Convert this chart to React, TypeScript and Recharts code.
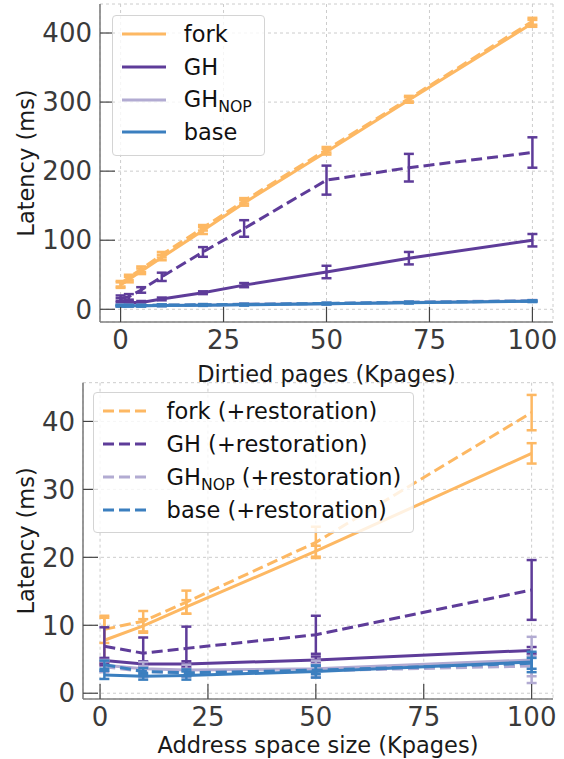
import {
  ComposedChart,
  Line,
  XAxis,
  YAxis,
  CartesianGrid,
  ErrorBar,
  Legend,
} from "recharts";

const FONT = "'DejaVu Sans', sans-serif";

const ORANGE = "#fdb863";
const PURPLE = "#5e3c99";
const LILAC = "#b2abd2";
const BLUE = "#3b7fbf";

// top panel: latency vs dirtied pages
const DIRTIED_X = [0, 2, 5, 10, 20, 30, 50, 70, 100];
const D_FORK = [35, 43, 55, 75, 114, 154, 228, 303, 414];
const D_FORK_ERR = [4, 4, 4, 4, 5, 4, 4, 4, 5];
const D_FORK_R = [37, 46, 58, 79, 118, 157, 231, 305, 417];
const D_FORK_R_ERR = [4, 4, 4, 4, 4, 4, 4, 4, 5];
const D_GH = [13, 10, 10, 15, 24, 35, 54, 74, 100];
const D_GH_ERR = [3, 2, 2, 2, 2, 3, 9, 9, 9];
const D_GH_R = [16, 18, 28, 47, 83, 117, 187, 205, 227];
const D_GH_R_ERR = [4, 4, 4, 6, 7, 12, 21, 20, 22];
const D_NOP = [5, 5, 5, 5.5, 6, 7, 8, 10, 12];
const D_NOP_ERR = [1, 1, 1, 1, 1, 1, 1, 1, 1];
const D_NOP_R = [5.5, 5.5, 5.5, 6, 6.5, 7.5, 8.5, 10.5, 12.5];
const D_NOP_R_ERR = [1, 1, 1, 1, 1, 1, 1, 1, 1];
const D_BASE = [5, 5, 5, 5.5, 6, 6.5, 8, 9.5, 11.5];
const D_BASE_ERR = [1, 1, 1, 1, 1, 1, 1, 1, 1];
const D_BASE_R = [5.5, 5.5, 5.5, 6, 6.5, 7, 8.5, 10, 12];
const D_BASE_R_ERR = [1, 1, 1, 1, 1, 1, 1, 1, 1];

// bottom panel: latency vs address space size
const ADDR_X = [1, 10, 20, 50, 100];
const A_FORK = [7.8, 9.9, 12.7, 20.9, 35.3];
const A_FORK_ERR = [3.3, 1.0, 1.0, 0.8, 1.5];
const A_FORK_R = [9.4, 10.6, 13.4, 22.2, 41.3];
const A_FORK_R_ERR = [2.0, 1.5, 1.7, 2.3, 2.6];
const A_GH = [4.8, 4.3, 4.3, 4.9, 6.3];
const A_GH_ERR = [0.4, 0.4, 0.4, 0.5, 0.5];
const A_GH_R = [6.9, 5.9, 6.6, 8.6, 15.2];
const A_GH_R_ERR = [2.8, 2.3, 3.2, 2.8, 4.4];
const A_NOP = [4.1, 3.6, 3.4, 3.6, 4.9];
const A_NOP_ERR = [0.8, 1.0, 0.8, 1.2, 3.4];
const A_NOP_R = [3.9, 3.2, 3.0, 3.3, 4.0];
const A_NOP_R_ERR = [0.8, 0.8, 0.6, 1.0, 1.5];
const A_BASE = [2.7, 2.5, 2.6, 3.2, 4.6];
const A_BASE_ERR = [0.6, 0.5, 0.6, 0.9, 1.5];
const A_BASE_R = [4.2, 3.2, 3.0, 3.4, 4.4];
const A_BASE_R_ERR = [0.6, 0.5, 0.5, 0.6, 0.8];

const X_TICKS = [0, 25, 50, 75, 100];
const D_Y_TICKS = [0, 100, 200, 300, 400];
const A_Y_TICKS = [0, 10, 20, 30, 40];

type Series = {
  key: string;
  color: string;
  dashed: boolean;
  values: number[];
  errors: number[];
};

const dirtiedSeries: Series[] = [
  { key: "fork", color: ORANGE, dashed: false, values: D_FORK, errors: D_FORK_ERR },
  { key: "forkR", color: ORANGE, dashed: true, values: D_FORK_R, errors: D_FORK_R_ERR },
  { key: "gh", color: PURPLE, dashed: false, values: D_GH, errors: D_GH_ERR },
  { key: "ghR", color: PURPLE, dashed: true, values: D_GH_R, errors: D_GH_R_ERR },
  { key: "nop", color: LILAC, dashed: false, values: D_NOP, errors: D_NOP_ERR },
  { key: "nopR", color: LILAC, dashed: true, values: D_NOP_R, errors: D_NOP_R_ERR },
  { key: "base", color: BLUE, dashed: false, values: D_BASE, errors: D_BASE_ERR },
  { key: "baseR", color: BLUE, dashed: true, values: D_BASE_R, errors: D_BASE_R_ERR },
];

const addrSeries: Series[] = [
  { key: "fork", color: ORANGE, dashed: false, values: A_FORK, errors: A_FORK_ERR },
  { key: "forkR", color: ORANGE, dashed: true, values: A_FORK_R, errors: A_FORK_R_ERR },
  { key: "gh", color: PURPLE, dashed: false, values: A_GH, errors: A_GH_ERR },
  { key: "ghR", color: PURPLE, dashed: true, values: A_GH_R, errors: A_GH_R_ERR },
  { key: "nop", color: LILAC, dashed: false, values: A_NOP, errors: A_NOP_ERR },
  { key: "nopR", color: LILAC, dashed: true, values: A_NOP_R, errors: A_NOP_R_ERR },
  { key: "base", color: BLUE, dashed: false, values: A_BASE, errors: A_BASE_ERR },
  { key: "baseR", color: BLUE, dashed: true, values: A_BASE_R, errors: A_BASE_R_ERR },
];

const buildRows = (xs: number[], series: Series[]) =>
  xs.map((x, i) => {
    const row: Record<string, number> = { x };
    series.forEach((s) => {
      row[s.key] = s.values[i];
      row[s.key + "Err"] = s.errors[i];
    });
    return row;
  });

type LegendItem = { name: string; sub?: string; suffix?: string; color: string; dashed: boolean };

const topLegend: LegendItem[] = [
  { name: "fork", color: ORANGE, dashed: false },
  { name: "GH", color: PURPLE, dashed: false },
  { name: "GH", sub: "NOP", color: LILAC, dashed: false },
  { name: "base", color: BLUE, dashed: false },
];

const bottomLegend: LegendItem[] = [
  { name: "fork", suffix: " (+restoration)", color: ORANGE, dashed: true },
  { name: "GH", suffix: " (+restoration)", color: PURPLE, dashed: true },
  { name: "GH", sub: "NOP", suffix: " (+restoration)", color: LILAC, dashed: true },
  { name: "base", suffix: " (+restoration)", color: BLUE, dashed: true },
];

const DASH = "11 5";

function LegendBox({ items, rowH, swatch }: { items: LegendItem[]; rowH: number; swatch: number }) {
  return (
    <div
      style={{
        border: "1px solid #d4d4d4",
        borderRadius: 4,
        background: "rgba(255,255,255,0.8)",
        padding: "2px 12px 6px 9px",
        fontFamily: FONT,
        fontSize: 22.5,
        color: "#111",
        lineHeight: 1,
      }}
    >
      {items.map((it, i) => (
        <div key={i} style={{ display: "flex", alignItems: "center", height: rowH }}>
          <svg width={swatch} height={8} style={{ flex: "none" }}>
            <line
              x1={0}
              y1={4}
              x2={swatch}
              y2={4}
              stroke={it.color}
              strokeWidth={3.2}
              strokeDasharray={it.dashed ? DASH : undefined}
            />
          </svg>
          <span style={{ marginLeft: 18, whiteSpace: "nowrap" }}>
            {it.name}
            {it.sub && (
              <span style={{ fontSize: "0.7em", position: "relative", top: 5 }}>{it.sub}</span>
            )}
            {it.suffix}
          </span>
        </div>
      ))}
    </div>
  );
}

const yLabel = (props: any) => {
  const vb = props.viewBox;
  const cx = 26;
  const cy = vb.y + vb.height / 2;
  return (
    <text
      x={cx}
      y={cy}
      transform={`rotate(-90 ${cx} ${cy})`}
      textAnchor="middle"
      dominantBaseline="central"
      fontFamily={FONT}
      fontSize={22.5}
      fill="#1a1a1a"
    >
      Latency (ms)
    </text>
  );
};

const tickStyle = { fill: "#3a3a3a", fontSize: 26, fontFamily: FONT };
const spine = { stroke: "#808080", strokeWidth: 1.6 };
const tickMark = { stroke: "#444", strokeWidth: 1.2 };

function Panel({
  series,
  xs,
  width,
  height,
  margin,
  yWidth,
  xHeight,
  xDomain,
  yDomain,
  yTicks,
  xLabel,
  xLabelOffset,
  legend,
  legendPos,
  legendRowH,
  legendSwatch,
}: {
  series: Series[];
  xs: number[];
  width: number;
  height: number;
  margin: { top: number; right: number; bottom: number; left: number };
  yWidth: number;
  xHeight: number;
  xDomain: [number, number];
  yDomain: [number, number];
  yTicks: number[];
  xLabel: string;
  xLabelOffset: number;
  legend: LegendItem[];
  legendPos: { left: number; top: number };
  legendRowH: number;
  legendSwatch: number;
}) {
  const rows = buildRows(xs, series);
  return (
    <ComposedChart width={width} height={height} data={rows} margin={margin}>
      <CartesianGrid stroke="#cccccc" strokeDasharray="3 3" strokeWidth={1} />
      <XAxis
        dataKey="x"
        type="number"
        domain={xDomain}
        allowDataOverflow
        ticks={X_TICKS}
        height={xHeight}
        tickSize={-15}
        tickMargin={24}
        tick={tickStyle}
        axisLine={spine}
        tickLine={tickMark}
        label={{
          value: xLabel,
          position: "insideBottom",
          offset: xLabelOffset,
          fill: "#1a1a1a",
          fontSize: 22.5,
          fontFamily: FONT,
        }}
      />
      <YAxis
        type="number"
        domain={yDomain}
        allowDataOverflow
        ticks={yTicks}
        width={yWidth}
        tickSize={-15}
        tickMargin={23}
        tick={tickStyle}
        axisLine={spine}
        tickLine={tickMark}
        label={{ content: yLabel }}
      />
      {series.map((s) => (
        <Line
          key={s.key}
          dataKey={s.key}
          type="linear"
          stroke={s.color}
          strokeWidth={3}
          strokeDasharray={s.dashed ? DASH : undefined}
          dot={false}
          activeDot={false}
          isAnimationActive={false}
        >
          <ErrorBar
            dataKey={s.key + "Err"}
            direction="y"
            width={5}
            stroke={s.color}
            strokeWidth={2.5}
            isAnimationActive={false}
          />
        </Line>
      ))}
      <Legend
        layout="horizontal"
        verticalAlign="middle"
        align="center"
        wrapperStyle={{ left: legendPos.left, top: legendPos.top, width: "auto" }}
        content={() => <LegendBox items={legend} rowH={legendRowH} swatch={legendSwatch} />}
      />
    </ComposedChart>
  );
}

export default function App() {
  return (
    <div style={{ position: "absolute", left: 0, top: 0, width: 564, height: 759, background: "#fff" }}>
      <div style={{ position: "absolute", left: 0, top: 370 }}>
        <Panel
          series={addrSeries}
          xs={ADDR_X}
          width={564}
          height={389}
          margin={{ top: 12.7, right: 11, bottom: 0, left: 0 }}
          yWidth={83}
          xHeight={60}
          xDomain={[-3.95, 104.95]}
          yDomain={[-0.85, 45.7]}
          yTicks={A_Y_TICKS}
          xLabel="Address space size (Kpages)"
          xLabelOffset={6.5}
          legend={bottomLegend}
          legendPos={{ left: 93, top: 21.7 }}
          legendRowH={32.9}
          legendSwatch={45.6}
        />
      </div>
      <div style={{ position: "absolute", left: 0, top: 0 }}>
        <Panel
          series={dirtiedSeries}
          xs={DIRTIED_X}
          width={564}
          height={390}
          margin={{ top: 4, right: 11, bottom: 0, left: 0 }}
          yWidth={100}
          xHeight={68}
          xDomain={[-5, 105]}
          yDomain={[-18.4, 442]}
          yTicks={D_Y_TICKS}
          xLabel="Dirtied pages (Kpages)"
          xLabelOffset={7.6}
          legend={topLegend}
          legendPos={{ left: 111.5, top: 15 }}
          legendRowH={32.7}
          legendSwatch={44.3}
        />
      </div>
    </div>
  );
}
